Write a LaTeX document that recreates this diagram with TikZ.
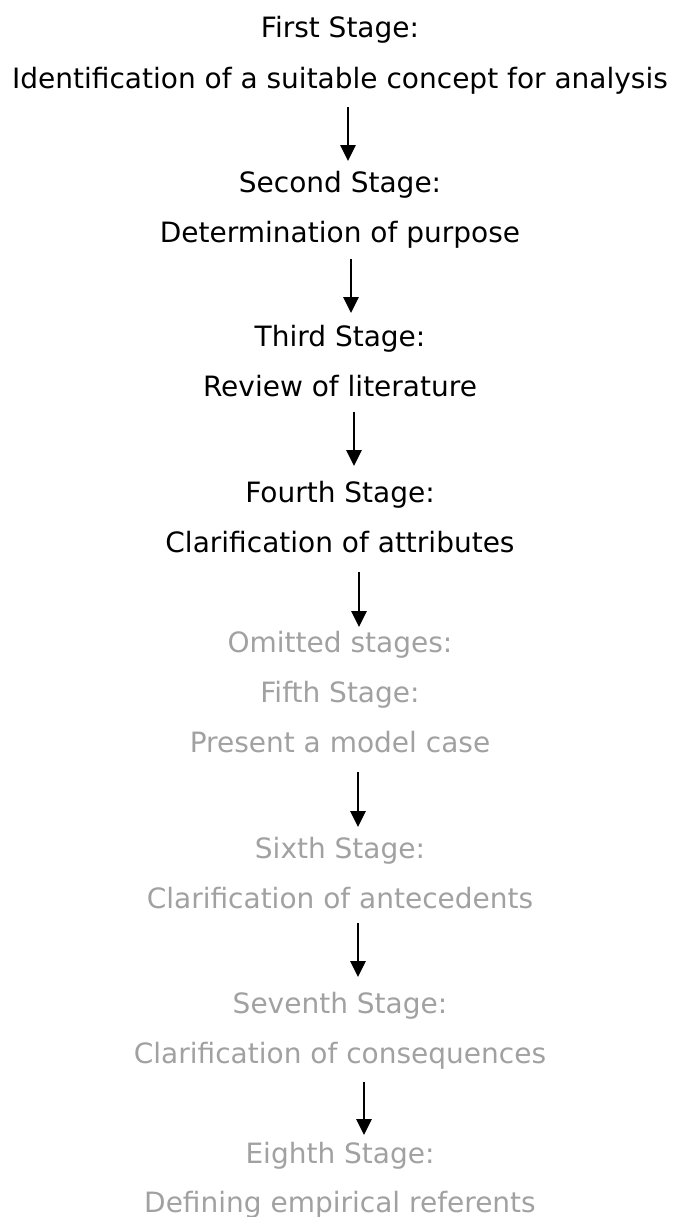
\documentclass[tikz,border=0pt]{standalone}
\usepackage{fontspec}
\setmainfont{DejaVu Sans}
\usetikzlibrary{arrows.meta}
\definecolor{omitgray}{rgb}{0.63,0.63,0.63}
\begin{document}
\begin{tikzpicture}[x=0.75pt,y=-0.75pt,
  lbl/.style={anchor=base,inner sep=0pt,font=\fontsize{21pt}{25pt}\selectfont,text=black},
  omit/.style={lbl,text=omitgray},
  arr/.style={line width=1.6pt,-{Triangle[width=11.5pt,length=12pt]}}]
\useasboundingbox (0,0) rectangle (676,1217);
\node[lbl] (s1) at (340,37) {First Stage:};
\node[lbl] (d1) at (340,88) {Identification of a suitable concept for analysis};
\node[lbl] (s2) at (340,192) {Second Stage:};
\node[lbl] (d2) at (340,242) {Determination of purpose};
\node[lbl] (s3) at (340,346) {Third Stage:};
\node[lbl] (d3) at (340,396) {Review of literature};
\node[lbl] (s4) at (340,502) {Fourth Stage:};
\node[lbl] (d4) at (340,552) {Clarification of attributes};
\node[omit] (om) at (340,652) {Omitted stages:};
\node[omit] (s5) at (340,702) {Fifth Stage:};
\node[omit] (d5) at (340,752) {Present a model case};
\node[omit] (s6) at (340,858) {Sixth Stage:};
\node[omit] (d6) at (340,908) {Clarification of antecedents};
\node[omit] (s7) at (340,1013) {Seventh Stage:};
\node[omit] (d7) at (340,1063) {Clarification of consequences};
\node[omit] (s8) at (340,1163) {Eighth Stage:};
\node[omit] (d8) at (340,1212) {Defining empirical referents};
\coordinate (a1s) at (348,107); \coordinate (a1e) at (348,161);
\coordinate (a2s) at (351,259); \coordinate (a2e) at (351,313);
\coordinate (a3s) at (354,412); \coordinate (a3e) at (354,466);
\coordinate (a4s) at (359,572); \coordinate (a4e) at (359,627);
\coordinate (a5s) at (358,772); \coordinate (a5e) at (358,827);
\coordinate (a6s) at (358,923); \coordinate (a6e) at (358,977);
\coordinate (a7s) at (364,1082); \coordinate (a7e) at (364,1135);
\draw[arr] (a1s) -- (a1e);
\draw[arr] (a2s) -- (a2e);
\draw[arr] (a3s) -- (a3e);
\draw[arr] (a4s) -- (a4e);
\draw[arr] (a5s) -- (a5e);
\draw[arr] (a6s) -- (a6e);
\draw[arr] (a7s) -- (a7e);
\end{tikzpicture}
\end{document}
